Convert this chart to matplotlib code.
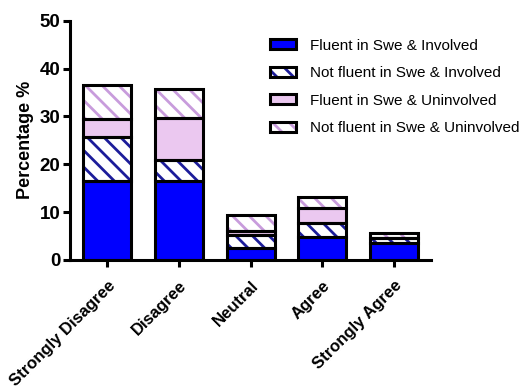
import matplotlib
matplotlib.use('Agg')
import matplotlib.pyplot as plt
from matplotlib.patches import Patch
from matplotlib.legend_handler import HandlerTuple
import numpy as np

categories = ['Strongly Disagree', 'Disagree', 'Neutral', 'Agree', 'Strongly Agree']
fluent_involved = [16.4, 16.4, 2.5, 4.7, 3.5]
notfluent_involved = [9.4, 4.5, 2.8, 3.1, 1.0]
fluent_uninvolved = [3.7, 8.7, 0.7, 3.0, 0.0]
notfluent_uninvolved = [7.0, 6.1, 3.4, 2.4, 1.1]
series_labels = ['Fluent in Swe & Involved', 'Not fluent in Swe & Involved',
                 'Fluent in Swe & Uninvolved', 'Not fluent in Swe & Uninvolved']

plt.rcParams['font.family'] = ['Liberation Sans', 'DejaVu Sans']
plt.rcParams['hatch.linewidth'] = 2.0

blue = '#0000FF'
navy = '#1C1C9A'
pink = '#EBC8F0'
pink_hatch = '#C89CDC'

styles = [
    dict(face=blue, hatch=None, hcol=None),
    dict(face='white', hatch='\\\\', hcol=navy),
    dict(face=pink, hatch=None, hcol=None),
    dict(face='white', hatch='\\\\', hcol=pink_hatch),
]
series = [fluent_involved, notfluent_involved, fluent_uninvolved, notfluent_uninvolved]

fig = plt.figure(figsize=(5.27, 3.92), dpi=100)
ax = fig.add_axes([0.133, 0.337, 0.685, 0.61])

x = np.arange(len(categories))
width = 0.67
bottom = np.zeros(len(categories))
handles = []
for vals, st, lab in zip(series, styles, series_labels):
    vals = np.array(vals)
    if st['hatch']:
        ax.bar(x, vals, width, bottom=bottom, color=st['face'], edgecolor=st['hcol'],
               hatch=st['hatch'], linewidth=0, zorder=2)
    else:
        ax.bar(x, vals, width, bottom=bottom, color=st['face'], linewidth=0, zorder=2)
    ax.bar(x, vals, width, bottom=bottom, fill=False, edgecolor='black', linewidth=2.2, zorder=3)
    bottom = bottom + vals
    if st['hatch']:
        h1 = Patch(facecolor=st['face'], edgecolor=st['hcol'], hatch=st['hatch'], linewidth=0)
    else:
        h1 = Patch(facecolor=st['face'], linewidth=0)
    h2 = Patch(fill=False, edgecolor='black', linewidth=2.2)
    handles.append((h1, h2))

ax.set_xlim(-0.52, 4.52)
ax.set_ylim(0, 50)
ax.set_yticks([0, 10, 20, 30, 40, 50])
ax.set_xticks(x)
ax.set_xticklabels(categories, rotation=45, ha='right', rotation_mode='anchor',
                   fontsize=12, fontweight='bold')
for t in ax.get_yticklabels():
    t.set_fontweight('bold')
    t.set_fontsize(13.5)
ax.set_ylabel('Percentage %', fontsize=13, fontweight='bold', labelpad=4)

for s in ['top', 'right']:
    ax.spines[s].set_visible(False)
for s in ['left', 'bottom']:
    ax.spines[s].set_linewidth(2.2)
ax.tick_params(axis='both', direction='out', length=5, width=2.2, pad=2)
ax.tick_params(axis='x', pad=8)

leg = ax.legend(handles, series_labels, handler_map={tuple: HandlerTuple(ndivide=1, pad=0)},
                loc='upper left', bbox_to_anchor=(0.554, 0.925), frameon=False,
                borderaxespad=0, borderpad=0,
                fontsize=11, handlelength=1.7, handleheight=0.6, labelspacing=0.88,
                handletextpad=0.9)

fig.savefig('out.png', dpi=100)
